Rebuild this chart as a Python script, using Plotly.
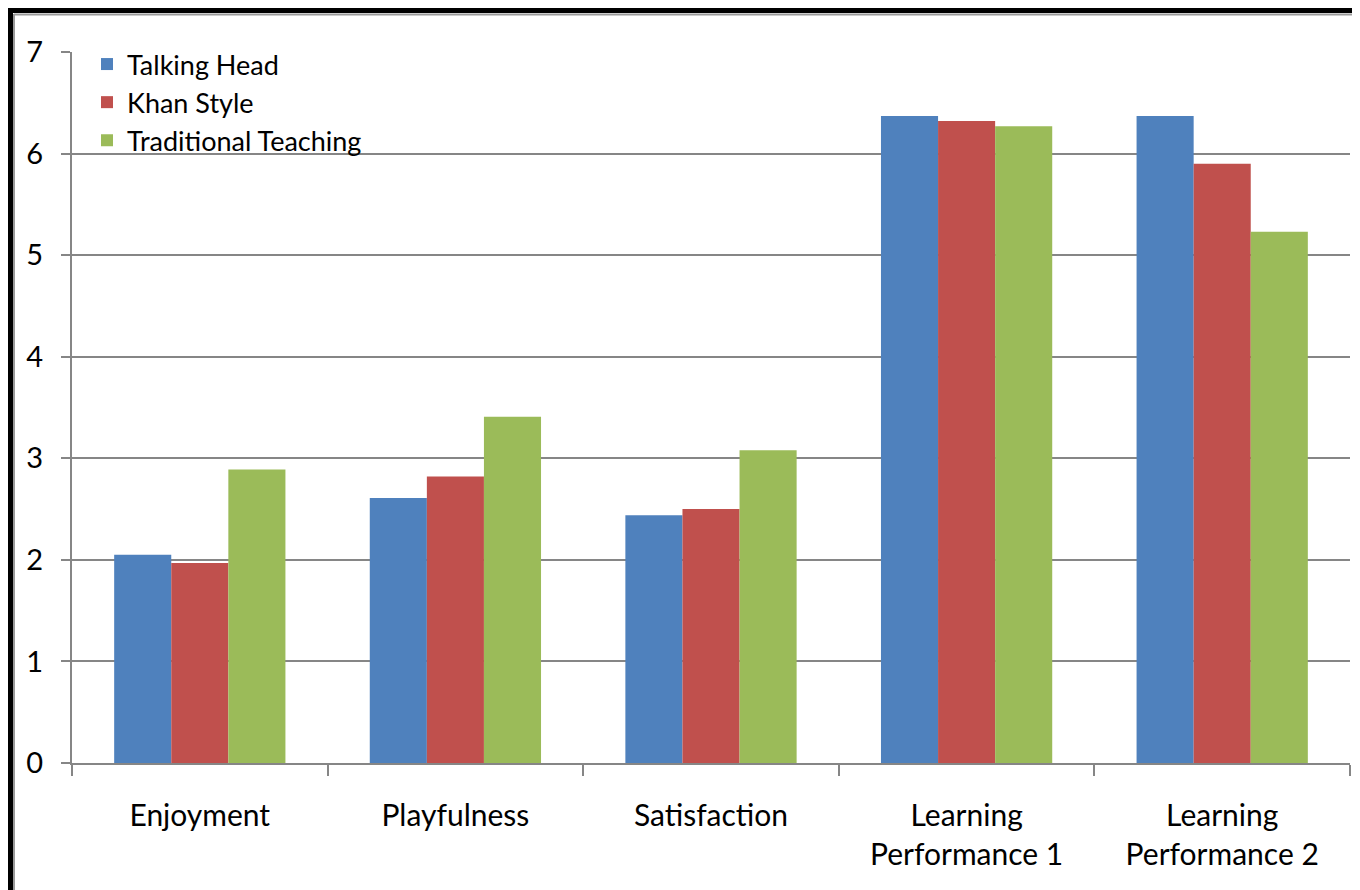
import plotly.graph_objects as go

categories = ["Enjoyment", "Playfulness", "Satisfaction",
              "Learning<br>Performance 1", "Learning<br>Performance 2"]
talking_head = [2.05, 2.61, 2.44, 6.37, 6.37]
khan_style = [1.97, 2.82, 2.50, 6.32, 5.90]
traditional = [2.89, 3.41, 3.08, 6.27, 5.23]
y_ticks = [0, 1, 2, 3, 4, 5, 6, 7]

OFF = 8  # page offset of the figure in the browser
W, H = 1360 - OFF, 890 - OFF
L, T = 72 - OFF, 52 - OFF
pw, ph = 1278, 711
R, B = W - L - pw, H - T - ph

def px(x):
    return (x - OFF - L) / pw

def py(y):
    return (T + ph - (y - OFF)) / ph

FONT = "Lato"
fig = go.Figure()
for name, vals, col in [("Talking Head", talking_head, "#4F81BD"),
                        ("Khan Style", khan_style, "#C0504D"),
                        ("Traditional Teaching", traditional, "#9BBB59")]:
    fig.add_trace(go.Bar(x=categories, y=vals, name=name,
                         marker=dict(color=col, line=dict(width=0))))

fig.update_layout(
    width=W, height=H,
    margin=dict(l=L, r=R, t=T, b=B),
    paper_bgcolor="white",
    plot_bgcolor="white",
    barmode="group",
    bargap=0.33,
    bargroupgap=0,
    font=dict(family=FONT, size=30, color="black"),
    showlegend=True,
    legend=dict(x=px(87), y=py(40), xanchor="left", yanchor="top",
                bgcolor="rgba(0,0,0,0)", font=dict(size=27, family=FONT),
                itemwidth=30, tracegroupgap=0),
    shapes=[
        dict(type="rect", xref="paper", yref="paper",
             x0=px(-40), x1=px(1400), y0=py(13), y1=py(-40),
             fillcolor="black", line=dict(width=0), layer="below"),
        dict(type="rect", xref="paper", yref="paper",
             x0=px(-40), x1=px(13), y0=py(-40), y1=py(940),
             fillcolor="black", line=dict(width=0), layer="below"),
        dict(type="line", xref="paper", yref="paper",
             x0=px(14), x1=px(1400), y0=py(14.5), y1=py(14.5),
             line=dict(color="#9a9a9a", width=2), layer="below"),
        dict(type="line", xref="paper", yref="paper",
             x0=px(14), x1=px(14), y0=py(14), y1=py(940),
             line=dict(color="#9a9a9a", width=2), layer="below"),
    ],
)
fig.update_xaxes(
    type="category",
    showline=True, linecolor="#868686", linewidth=2,
    ticks="outside", tickson="boundaries", ticklen=11, tickwidth=2, tickcolor="#868686",
    showgrid=False,
    tickfont=dict(size=30, family=FONT),
    ticklabelstandoff=25,
)
fig.update_yaxes(
    range=[0, 7], tickvals=y_ticks,
    showline=True, linecolor="#868686", linewidth=2,
    ticks="outside", ticklen=9, tickwidth=2, tickcolor="#868686",
    showgrid=True, gridcolor="#868686", gridwidth=2,
    zeroline=False,
    tickfont=dict(size=29, family=FONT),
    ticklabelstandoff=12,
)
fig.write_html("out.html")
